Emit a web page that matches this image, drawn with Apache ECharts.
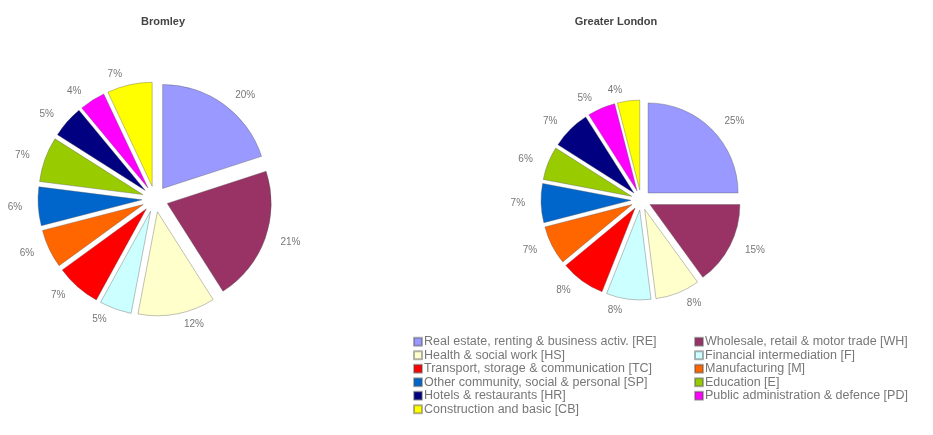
<!DOCTYPE html>
<html>
<head>
<meta charset="utf-8">
<script src="https://cdn.jsdelivr.net/npm/echarts@6/dist/echarts.min.js"></script>
<style>
html,body{margin:0;padding:0;background:#fff;}
#c{width:933px;height:435px;}
</style>
</head>
<body>
<div id="c"></div>
<script>
const categories = [
  "Real estate, renting & business activ. [RE]",
  "Wholesale, retail & motor trade [WH]",
  "Health & social work [HS]",
  "Financial intermediation [F]",
  "Transport, storage & communication [TC]",
  "Manufacturing [M]",
  "Other community, social & personal [SP]",
  "Education [E]",
  "Hotels & restaurants [HR]",
  "Public administration & defence [PD]",
  "Construction and basic [CB]"
];
const bromley = [20, 21, 12, 5, 7, 6, 6, 7, 5, 4, 7];
const london  = [25, 15, 8, 8, 8, 7, 7, 6, 7, 5, 4];
const colors = ["#9999ff","#993366","#ffffcc","#ccffff","#ff0000","#ff6600","#0066cc","#99cc00","#000080","#ff00ff","#ffff00"];
const titles = ["Bromley", "Greater London"];
const legendLeft = [0, 2, 4, 6, 8, 10].map(i => categories[i]);
const legendRight = [1, 3, 5, 7, 9].map(i => categories[i]);

function pieData(vals) {
  return categories.map((n, i) => ({ name: n, value: vals[i], selected: true }));
}
function pieSeries(vals, center, radius, off) {
  return {
    type: 'pie',
    center: center,
    radius: radius,
    startAngle: 90,
    clockwise: true,
    selectedMode: 'multiple',
    selectedOffset: off,
    avoidLabelOverlap: false,
    animation: false,
    itemStyle: { borderColor: 'rgba(80,80,80,0.45)', borderWidth: 0.8 },
    label: {
      show: true, position: 'outside',
      formatter: p => p.value + '%',
      color: '#777', fontSize: 10, fontFamily: 'Liberation Sans, Arial, sans-serif'
    },
    labelLine: { show: false, length: 11, length2: 0 },
    emphasis: { disabled: true },
    data: pieData(vals)
  };
}

const chart = echarts.init(document.getElementById('c'), null, { renderer: 'canvas' });
const legendText = { color: '#777', fontSize: 12.5, fontFamily: 'Liberation Sans, Arial, sans-serif', lineHeight: 13.5, padding: [0, 0, 0, -3] };
const titleText = { fontSize: 11, fontWeight: 'bold', color: '#444', fontFamily: 'Liberation Sans, Arial, sans-serif' };
chart.setOption({
  color: colors,
  animation: false,
  title: [
    { text: titles[0], left: 158, top: 11, textAlign: 'center', textStyle: titleText },
    { text: titles[1], left: 611, top: 11, textAlign: 'center', textStyle: titleText }
  ],
  legend: [
    { orient: 'vertical', left: 413, top: 335, padding: 0, itemWidth: 8, itemHeight: 8, itemGap: 0,
      selectedMode: false, icon: 'rect', data: legendLeft, textStyle: legendText },
    { orient: 'vertical', left: 694, top: 335, padding: 0, itemWidth: 8, itemHeight: 8, itemGap: 0,
      selectedMode: false, icon: 'rect', data: legendRight, textStyle: legendText }
  ],
  series: [
    pieSeries(bromley, [155, 199], 104, 13),
    pieSeries(london, [641, 200], 90, 10)
  ]
});
</script>
</body>
</html>
